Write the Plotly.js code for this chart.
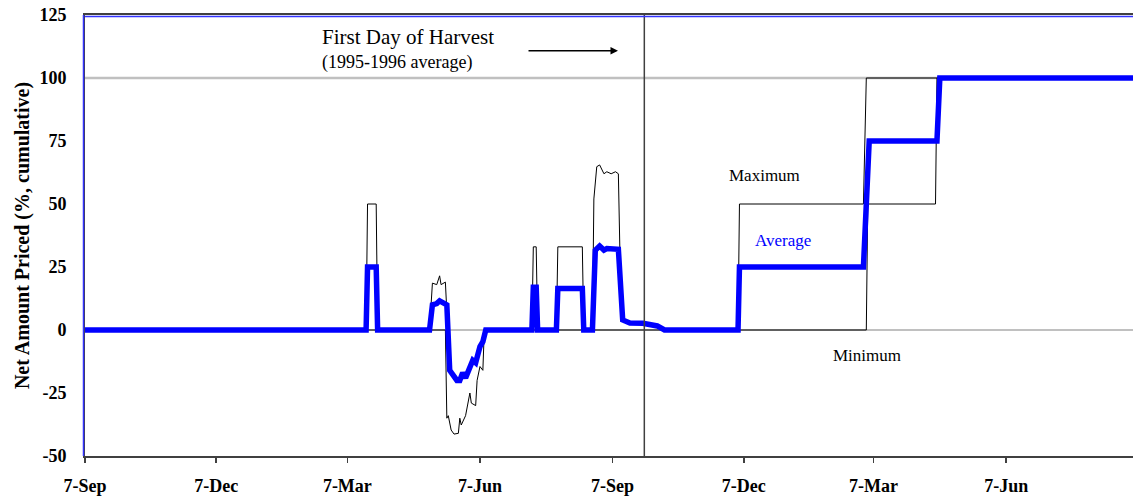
<!DOCTYPE html>
<html>
<head>
<meta charset="utf-8">
<script src="https://cdn.plot.ly/plotly-3.0.1.min.js"></script>
<style>html,body{margin:0;padding:0;background:#fff;}#chart{width:1133px;height:501px;}</style>
</head>
<body>
<div id="chart"></div>
<script>
// ---- data ----
const maxDates = ["1995-09-07","1996-03-20","1996-03-21","1996-03-27","1996-03-28","1996-05-03","1996-05-05","1996-05-08","1996-05-10","1996-05-11","1996-05-14","1996-05-17","1996-05-22","1996-05-24","1996-05-26","1996-05-28","1996-06-02","1996-06-04","1996-06-07","1996-06-09","1996-06-11","1996-07-13","1996-07-14","1996-07-16","1996-07-17","1996-07-30","1996-07-31","1996-08-17","1996-08-18","1996-08-24","1996-08-25","1996-08-27","1996-08-29","1996-09-01","1996-09-03","1996-09-06","1996-09-09","1996-09-11","1996-09-13","1996-09-19","1996-09-28","1996-10-08","1996-10-13","1996-12-03","1996-12-04","1997-02-28","1997-03-02","1997-09-03"];
const maxValues = [0,0,50,50,0,0,18.6,18,21.5,18,19,-16,-20,-20,-17,-19,-12,-13,-6.6,-4.6,0,0,33,33,0,0,33,33,0,0,52,64.8,65.5,62,62.8,62,62.8,62,4,2.8,2.7,1.6,0,0,50,50,100,100];

const avgDates = ["1995-09-07","1996-03-20","1996-03-21","1996-03-27","1996-03-28","1996-05-03","1996-05-05","1996-05-08","1996-05-10","1996-05-13","1996-05-15","1996-05-17","1996-05-22","1996-05-24","1996-05-26","1996-05-28","1996-06-02","1996-06-04","1996-06-07","1996-06-09","1996-06-11","1996-07-13","1996-07-14","1996-07-16","1996-07-17","1996-07-30","1996-07-31","1996-08-17","1996-08-18","1996-08-24","1996-08-26","1996-08-29","1996-09-01","1996-09-03","1996-09-06","1996-09-11","1996-09-14","1996-09-19","1996-09-28","1996-10-08","1996-10-13","1996-12-03","1996-12-04","1997-02-28","1997-03-02","1997-03-04","1997-04-20","1997-04-22","1997-09-03"];
const avgValues = [0,0,25,25,0,0,10,10.5,11.6,10.5,10,-16,-20,-20,-17,-19,-12,-13,-6.6,-4.6,0,0,17,17,0,0,16.5,16.5,0,0,31.7,33.3,31.7,32.3,32,32,4,2.8,2.7,1.6,0,0,25,25,50,75,75,100,100];

const minDates = ["1995-09-07","1996-05-14","1996-05-15","1996-05-16","1996-05-18","1996-05-20","1996-05-23","1996-05-24","1996-05-25","1996-05-28","1996-05-31","1996-06-01","1996-06-04","1996-06-05","1996-06-07","1996-06-09","1996-06-10","1997-03-02","1997-03-03","1997-04-19","1997-04-20","1997-09-03"];
const minValues = [0,0,-35,-34,-39.7,-41.3,-41,-35,-37.7,-34,-25,-29,-30,-20,-14.5,-16,0,0,50,50,100,100];

const tickDates = ["1995-09-07","1995-12-07","1996-03-07","1996-06-07","1996-09-07","1996-12-07","1997-03-07","1997-06-07"];
const tickLabels = ["7-Sep","7-Dec","7-Mar","7-Jun","7-Sep","7-Dec","7-Mar","7-Jun"];
const yTicks = [-50,-25,0,25,50,75,100,125];
const yTickLabels = ["-50","-25","0","25","50","75","100","125"];
const harvestDate = "1996-09-29";

const serif = "Liberation Serif, Times New Roman, serif";
const bold = s => "<b>" + s + "</b>";

const traces = [
  {x: minDates, y: minValues, name: "Minimum", mode: "lines", line: {color: "#000000", width: 1}},
  {x: maxDates, y: maxValues, name: "Maximum", mode: "lines", line: {color: "#000000", width: 1}},
  {x: avgDates, y: avgValues, name: "Average", mode: "lines", line: {color: "#0000ff", width: 5.5}}
];

const layout = {
  width: 1133, height: 501,
  margin: {l: 85, r: 0, t: 15, b: 45},
  paper_bgcolor: "#ffffff", plot_bgcolor: "#ffffff",
  showlegend: false,
  font: {family: serif, color: "#000000"},
  xaxis: {
    type: "date", range: ["1995-09-07", "1997-09-03"],
    tickvals: tickDates, ticktext: tickLabels.map(bold),
    tickfont: {family: serif, size: 18, color: "#000000"},
    ticks: "outside", ticklen: 5, tickwidth: 1.5, tickcolor: "#404040",
    ticklabelstandoff: 7,
    showgrid: false, zeroline: false,
    showline: true, linecolor: "#404040", linewidth: 2, mirror: true
  },
  yaxis: {
    range: [-50, 125], tickvals: yTicks, ticktext: yTickLabels.map(bold),
    tickfont: {family: serif, size: 18, color: "#000000"},
    ticks: "", ticklabelstandoff: 13,
    showgrid: false,
    zeroline: true, zerolinecolor: "#c0c0c0", zerolinewidth: 2.5,
    showline: true, linecolor: "#404040", linewidth: 2, mirror: true,
    title: {text: "<b>Net Amount Priced (%, cumulative)</b>", font: {family: serif, size: 20, color: "#000000"}, standoff: 4}
  },
  shapes: [
    {type: "line", xref: "paper", yref: "y", x0: 0, x1: 1, y0: 100, y1: 100, layer: "below", line: {color: "#c0c0c0", width: 2.5}},
    {type: "line", xref: "x", yref: "paper", x0: harvestDate, x1: harvestDate, y0: 0, y1: 1, line: {color: "#404040", width: 1.5}},
    {type: "line", xref: "paper", yref: "paper", xsizemode: "pixel", xanchor: 0, x0: -1.5, x1: -1.5, y0: 0, y1: 1, line: {color: "#3333ff", width: 1.5}},
    {type: "line", xref: "paper", yref: "paper", ysizemode: "pixel", yanchor: 1, y0: -1.5, y1: -1.5, x0: 0, x1: 1, line: {color: "#3333ff", width: 1.5}}
  ],
  annotations: [
    {xref: "paper", yref: "paper", x: 0.308, y: 0.950, text: "First Day of Harvest", showarrow: false, xanchor: "center", yanchor: "middle", font: {family: serif, size: 21, color: "#000000"}},
    {xref: "paper", yref: "paper", x: 0.298, y: 0.893, text: "(1995-1996 average)", showarrow: false, xanchor: "center", yanchor: "middle", font: {family: serif, size: 18, color: "#000000"}},
    {xref: "paper", yref: "paper", x: 0.5086, y: 0.919, text: "", showarrow: true, axref: "pixel", ayref: "pixel", ax: -91, ay: 0, arrowhead: 2, arrowsize: 1, arrowwidth: 1.5, arrowcolor: "#000000"},
    {xref: "paper", yref: "paper", x: 0.648, y: 0.635, text: "Maximum", showarrow: false, xanchor: "center", yanchor: "middle", font: {family: serif, size: 17, color: "#000000"}},
    {xref: "paper", yref: "paper", x: 0.666, y: 0.488, text: "Average", showarrow: false, xanchor: "center", yanchor: "middle", font: {family: serif, size: 17, color: "#0000ff"}},
    {xref: "paper", yref: "paper", x: 0.746, y: 0.227, text: "Minimum", showarrow: false, xanchor: "center", yanchor: "middle", font: {family: serif, size: 17, color: "#000000"}}
  ]
};

Plotly.newPlot("chart", traces, layout, {displayModeBar: false, staticPlot: true});
</script>
</body>
</html>
